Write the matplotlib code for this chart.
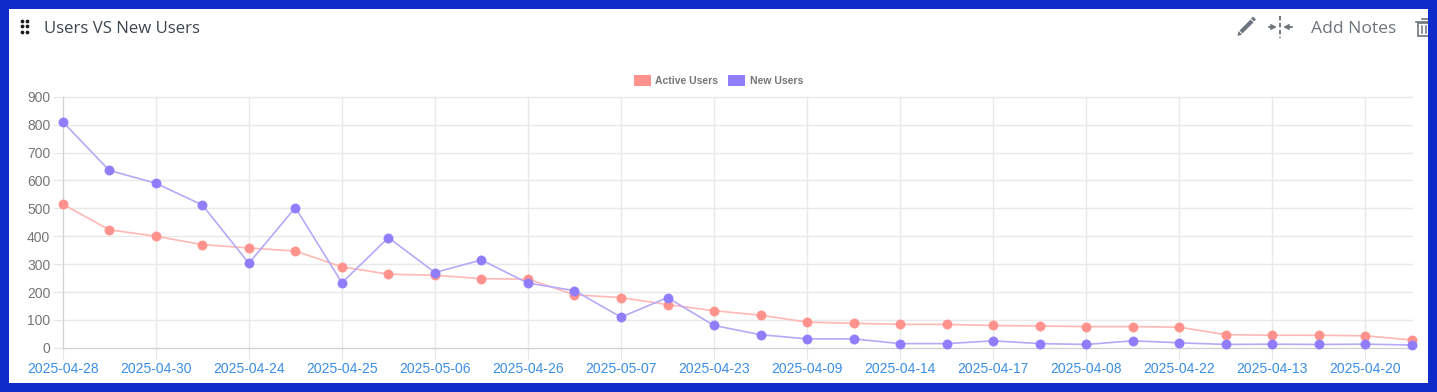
import matplotlib
matplotlib.use('Agg')
import matplotlib.pyplot as plt
from matplotlib.patches import Rectangle, Polygon

W, H = 1437, 392

dates = ['2025-04-28', '', '2025-04-30', '', '2025-04-24', '', '2025-04-25', '', '2025-05-06', '',
         '2025-04-26', '', '2025-05-07', '', '2025-04-23', '', '2025-04-09', '', '2025-04-14', '',
         '2025-04-17', '', '2025-04-08', '', '2025-04-22', '', '2025-04-13', '', '2025-04-20', '']
active_users = [515, 423, 400, 370, 358, 347, 290, 264, 260, 248, 246, 190, 180, 155, 133,
                117, 92, 88, 84, 84, 80, 78, 76, 76, 74, 47, 45, 45, 43, 28]
new_users = [810, 636, 590, 512, 303, 503, 233, 395, 270, 315, 232, 205, 110, 180, 80,
             47, 32, 32, 15, 15, 25, 15, 12, 25, 18, 12, 13, 12, 13, 10]
y_ticks = [0, 100, 200, 300, 400, 500, 600, 700, 800, 900]

plt.rcParams['font.family'] = ['Liberation Sans', 'DejaVu Sans']

fig = plt.figure(figsize=(W / 100, H / 100), dpi=100, facecolor='#0f2ccb')

# white card and header sit on a pixel-sized overlay
bg = fig.add_axes([0, 0, 1, 1], zorder=0)
bg.set_xlim(0, W)
bg.set_ylim(H, 0)
bg.axis('off')
bg.add_patch(Rectangle((9, 9), 1419, 374, fc='white', ec='none'))

# drag handle
for px in (21.5, 26.5):
    for py in (20.5, 26, 31.5):
        bg.plot(px, py, 'o', ms=2.7, color='#1b1b1b', mew=0)
bg.text(44, 28.5, 'Users VS New Users', fontsize=12.1, family=['Open Sans', 'DejaVu Sans'],
        color='#3c4650', va='center', ha='left')

# pencil icon
bg.plot([1241, 1252], [32, 21], color='#6c757d', lw=3.0, solid_capstyle='butt')
bg.add_patch(Polygon([[1237.5, 36], [1238.5, 31], [1242, 34.5]], fc='#6c757d', ec='none'))
bg.plot([1252.5, 1254.5], [20, 18], color='#6c757d', lw=3.0, solid_capstyle='butt')
# collapse icon
bg.plot([1280, 1280], [16, 38], color='#6c757d', lw=1.4, ls=(0, (2.2, 1.4)))
bg.annotate('', xy=(1277, 27), xytext=(1269, 27),
            arrowprops=dict(arrowstyle='->', color='#6c757d', lw=1.4, mutation_scale=7, shrinkA=0, shrinkB=0))
bg.annotate('', xy=(1283, 27), xytext=(1292, 27),
            arrowprops=dict(arrowstyle='->', color='#6c757d', lw=1.4, mutation_scale=7, shrinkA=0, shrinkB=0))
bg.text(1311, 28.5, 'Add Notes', fontsize=12.6, family=['Open Sans', 'DejaVu Sans'],
        color='#6c757d', va='center', ha='left')
# trash icon, cut off by the card edge
bg.add_patch(Rectangle((1417.5, 23), 12, 13, fc='none', ec='#6c757d', lw=1.2))
bg.plot([1416, 1432], [21.5, 21.5], color='#6c757d', lw=1.2)
bg.plot([1421.5, 1428], [19, 19], color='#6c757d', lw=1.2)
bg.plot([1421.5, 1421.5], [26, 33], color='#6c757d', lw=1.1)
bg.plot([1425.5, 1425.5], [26, 33], color='#6c757d', lw=1.1)
bg.add_patch(Rectangle((1428, 9), 9, 40, fc='#0f2ccb', ec='none', zorder=5))

# chart
left, right, top, bottom = 62.8, 1411.8, 96.8, 347.8
ax = fig.add_axes([left / W, 1 - bottom / H, (right - left) / W, (bottom - top) / H], zorder=1)
ax.patch.set_alpha(0)
x = list(range(len(dates)))
ax.plot(x, active_users, color='#ffb8b3', lw=1.2, marker='o', ms=6.6, mfc='#ff928c', mec='#ff928c', mew=0.5,
        clip_on=False, zorder=3, label='Active Users')
ax.plot(x, new_users, color='#b5a9f8', lw=1.2, marker='o', ms=6.6, mfc='#8f7dfb', mec='#8f7dfb', mew=0.5,
        clip_on=False, zorder=4, label='New Users')
ax.set_xlim(0, len(dates) - 1)
ax.set_ylim(0, 900)
ax.set_yticks(y_ticks)
ax.set_xticks(x[::2])
ax.set_xticklabels(dates[::2])
ax.grid(True, color='#e9e9e9', lw=1, clip_on=False)
ax.set_axisbelow(True)
for side in ('top', 'right'):
    ax.spines[side].set_visible(False)
for side in ('left', 'bottom'):
    ax.spines[side].set_color('#d2d2d2')
ax.tick_params(axis='y', labelsize=10, labelcolor='#767676', color='#e6e6e6', length=7, pad=2)
ax.tick_params(axis='x', labelsize=10, labelcolor='#3a8ee6', color='#e6e6e6', length=8, pad=2)

# legend drawn by the library, squares like the chart.js one
handles = [Rectangle((0, 0), 1, 1, fc='#ff928c', ec='none'), Rectangle((0, 0), 1, 1, fc='#8f7dfb', ec='none')]
leg = fig.legend(handles, ['Active Users', 'New Users'], ncol=2, frameon=False,
                 loc='center', bbox_to_anchor=(718.5 / W, 1 - 80.5 / H),
                 prop={'size': 7.5, 'weight': 'bold'}, labelcolor='#767676',
                 handlelength=1.6, handleheight=1.2, handletextpad=0.45, columnspacing=0.95,
                 borderpad=0, borderaxespad=0)

fig.savefig('out.png', dpi=100, facecolor=fig.get_facecolor())
